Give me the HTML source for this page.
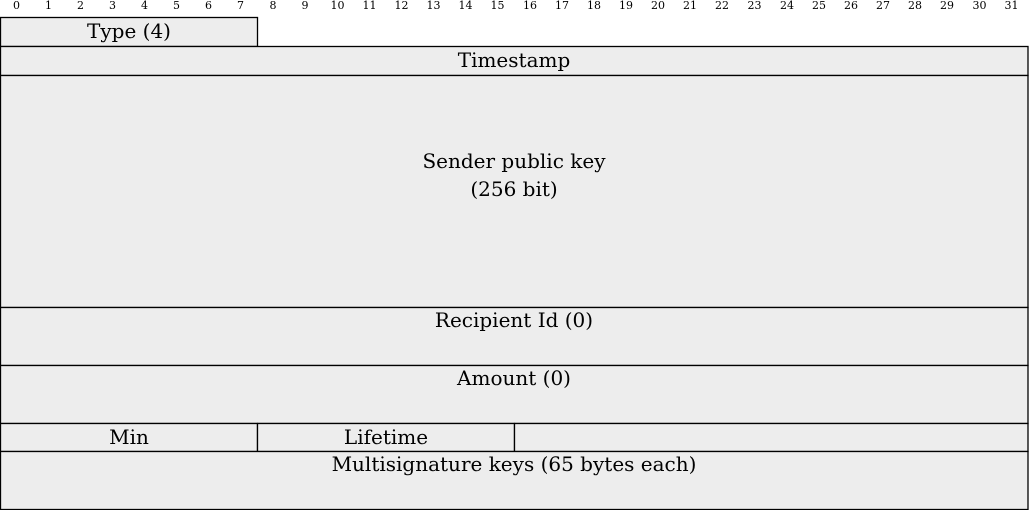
<!DOCTYPE html>
<html><head><style>
html,body{margin:0;padding:0;background:#fff;}
svg{display:block;}
text{font-family:"DejaVu Serif",serif;fill:#000;}
</style></head><body>
<svg width="1029" height="510" xmlns="http://www.w3.org/2000/svg">
<g font-size="11" text-anchor="middle">
<text x="16.5" y="9">0</text><text x="48.5" y="9">1</text><text x="80.5" y="9">2</text><text x="112.5" y="9">3</text>
<text x="144.5" y="9">4</text><text x="176.5" y="9">5</text><text x="208.5" y="9">6</text><text x="240.5" y="9">7</text>
<text x="273" y="9">8</text><text x="305" y="9">9</text><text x="337.5" y="9">10</text><text x="369.5" y="9">11</text>
<text x="401.5" y="9">12</text><text x="433.5" y="9">13</text><text x="465.5" y="9">14</text><text x="497.5" y="9">15</text>
<text x="530" y="9">16</text><text x="562" y="9">17</text><text x="594" y="9">18</text><text x="626" y="9">19</text>
<text x="658" y="9">20</text><text x="690" y="9">21</text><text x="722" y="9">22</text><text x="754.5" y="9">23</text>
<text x="787" y="9">24</text><text x="819" y="9">25</text><text x="851" y="9">26</text><text x="883" y="9">27</text>
<text x="915" y="9">28</text><text x="947" y="9">29</text><text x="979.5" y="9">30</text><text x="1011.5" y="9">31</text>
</g>
<g fill="#ededed" stroke="#000" stroke-width="1.3">
<rect x="0.5" y="17.5" width="257" height="29"/>
<rect x="0.5" y="46.5" width="1027.5" height="29"/>
<rect x="0.5" y="75.5" width="1027.5" height="232"/>
<rect x="0.5" y="307.5" width="1027.5" height="58"/>
<rect x="0.5" y="365.5" width="1027.5" height="58"/>
<rect x="0.5" y="423.5" width="257" height="28"/>
<rect x="257.5" y="423.5" width="257" height="28"/>
<rect x="514.5" y="423.5" width="513.5" height="28"/>
<rect x="0.5" y="451.5" width="1027.5" height="58"/>
</g>
<g font-size="20" text-anchor="middle">
<text x="129" y="38">Type (4)</text>
<text x="514" y="67">Timestamp</text>
<text x="514" y="168">Sender public key</text>
<text x="514" y="196">(256 bit)</text>
<text x="514" y="327">Recipient Id (0)</text>
<text x="514" y="385">Amount (0)</text>
<text x="129" y="444">Min</text>
<text x="386" y="444">Lifetime</text>
<text x="514" y="471">Multisignature keys (65 bytes each)</text>
</g>
</svg>
</body></html>
